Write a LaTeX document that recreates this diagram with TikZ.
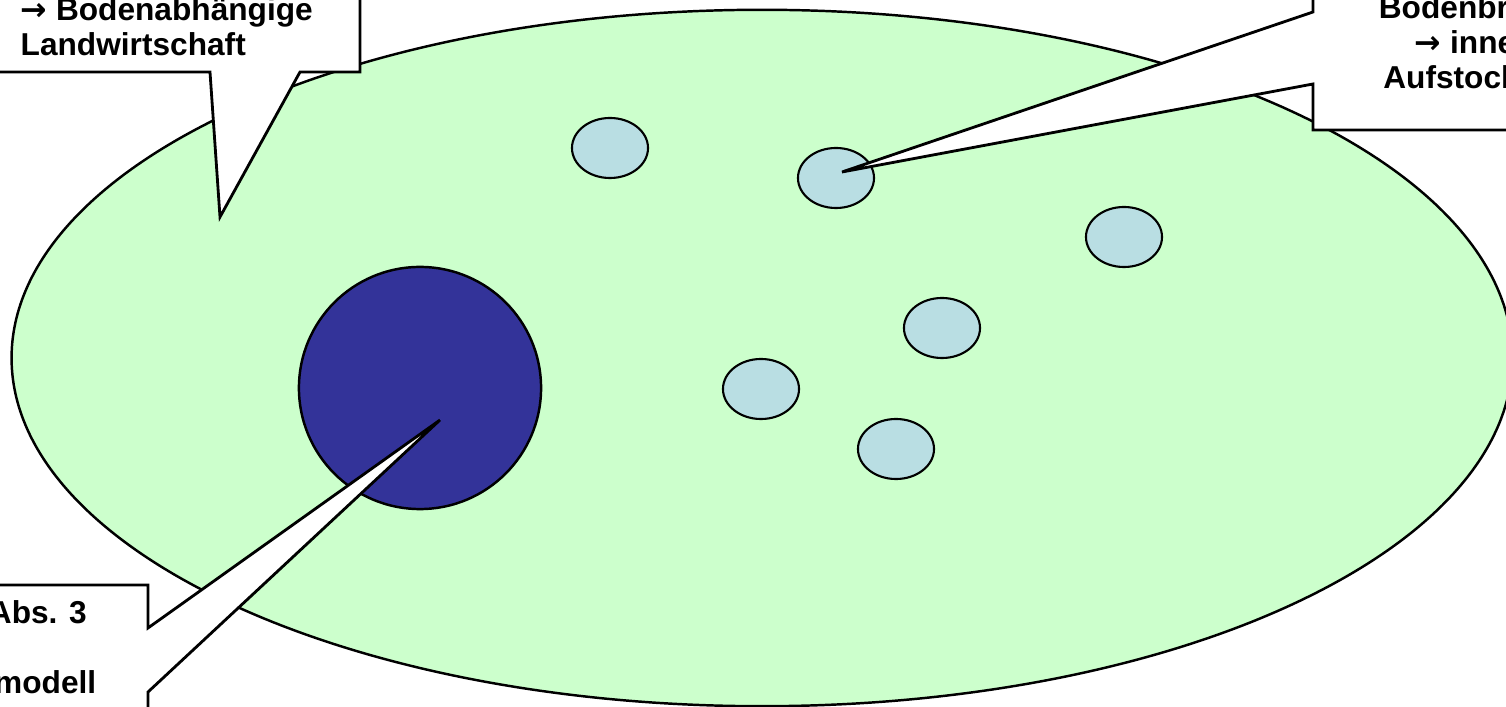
\documentclass[tikz,border=0pt]{standalone}
\usepackage{fontspec}
\setmainfont{Liberation Sans}
\newfontfamily\arrowfont{DejaVu Sans}
\usetikzlibrary{shapes.geometric}
\definecolor{meadow}{RGB}{204,255,204}
\definecolor{pond}{RGB}{185,222,227}
\definecolor{corecol}{RGB}{51,51,153}
\newcommand{\toarrow}{{\arrowfont\bfseries →}}
\begin{document}
\begin{tikzpicture}[x=0.01cm, y=-0.01cm,
  farm/.style={draw, ellipse, fill=pond, line width=0.6pt, minimum width=0.76cm, minimum height=0.6cm, inner sep=0},
  callout/.style={draw, fill=white, line width=0.8pt, line join=miter},
  note/.style={font=\fontsize{9}{10}\selectfont\bfseries, inner sep=0}]
\useasboundingbox (0,0) rectangle (1506,707);
\clip (0,0) rectangle (1506,707);

\node[draw, ellipse, fill=meadow, line width=0.7pt, minimum width=15cm, minimum height=6.96cm, inner sep=0] (land) at (762,358) {};
\node[draw, circle, fill=corecol, line width=0.7pt, minimum size=2.42cm, inner sep=0] (core) at (420,388) {};

\node[farm] (farm1) at (610,148) {};
\node[farm] (farm2) at (836,178) {};
\node[farm] (farm3) at (1124,237) {};
\node[farm] (farm4) at (942,328) {};
\node[farm] (farm5) at (761,389) {};
\node[farm] (farm6) at (896,449) {};

\coordinate (tipland) at (220,217);
\coordinate (tipfarm) at (842,172);
\coordinate (tipcore) at (440,420);

% callouts
\draw[callout] (-10,-10) -- (360,-10) -- (360,72) -- (300,72) -- (tipland) -- (210,72) -- (-10,72) -- cycle;
\draw[callout] (1313,-10) -- (1313,12) -- (tipfarm) -- (1313,84) -- (1313,130) -- (1520,130) -- (1520,-10) -- cycle;
\draw[callout] (-10,585) -- (148,585) -- (148,628) -- (tipcore) -- (148,692) -- (148,720) -- (-10,720) -- cycle;

\node[note, anchor=north west, align=left] (landtext) at (20,-3) {\toarrow{} Bodenabhängige\\Landwirtschaft};
\node[note, anchor=north, align=center] (farmtext) at (1480,-5) {Bodenbrache\\\toarrow{} innere\\Aufstockung};
\node[note, anchor=north, align=center] (coretext) at (-26,600) {Art. 16a Abs. 3\\\mbox{}\\Planungsmodell};
\end{tikzpicture}
\end{document}
